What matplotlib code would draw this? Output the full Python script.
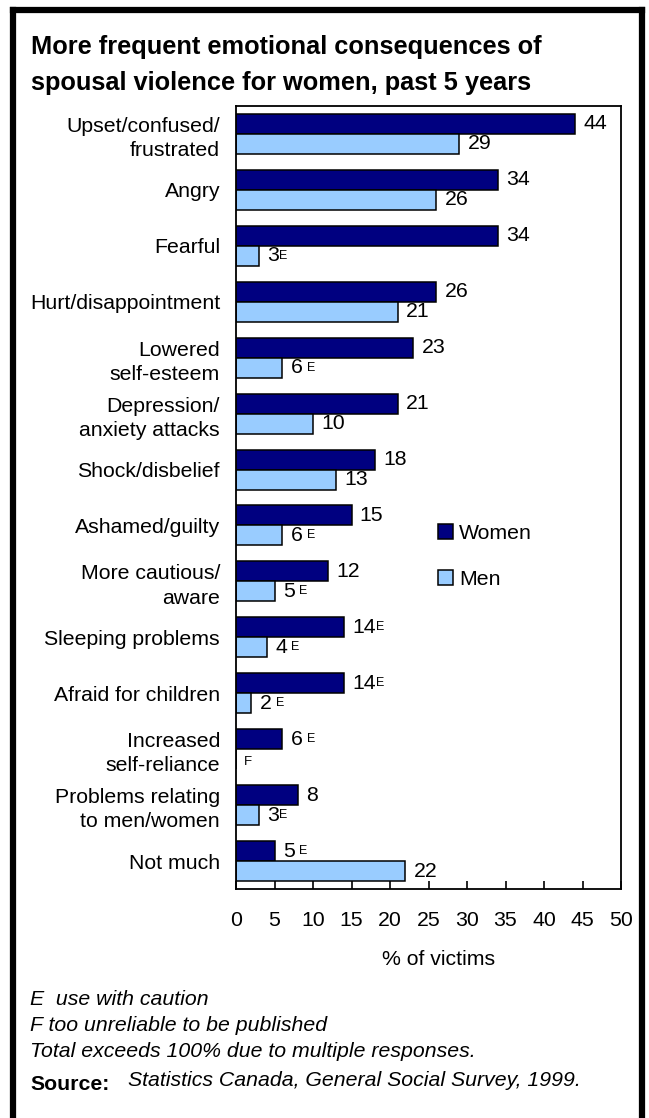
import numpy as np
import matplotlib
matplotlib.use("Agg")
import matplotlib.pyplot as plt
from matplotlib.patches import Patch
from matplotlib.lines import Line2D

plt.rcParams["font.family"] = ["Liberation Sans", "DejaVu Sans"]

categories = ["Upset/confused/\nfrustrated", "Angry", "Fearful", "Hurt/disappointment",
              "Lowered\nself-esteem", "Depression/\nanxiety attacks", "Shock/disbelief",
              "Ashamed/guilty", "More cautious/\naware", "Sleeping problems",
              "Afraid for children", "Increased\nself-reliance", "Problems relating\nto men/women",
              "Not much"]
women = [44, 34, 34, 26, 23, 21, 18, 15, 12, 14, 14, 6, 8, 5]
men = [29, 26, 3, 21, 6, 10, 13, 6, 5, 4, 2, None, 3, 22]
# quality flags printed after the values ("E" = use with caution)
women_flag = ["", "", "", "", "", "", "", "", "", "E", "E", " E", "", " E"]
men_flag = ["", "", "E", "", " E", "", "", " E", " E", " E", " E", "", "E", ""]

W, H = 649, 1118
fig = plt.figure(figsize=(W / 100, H / 100), dpi=100)

def fx(px):
    return px / W

def fy(py):
    return 1 - py / H

fs = 15.3

# outer frame (open at the bottom)
lw_frame = 4.5
fig.add_artist(Line2D([fx(13), fx(13)], [fy(10), 0], color="black", lw=lw_frame))
fig.add_artist(Line2D([fx(13), fx(642)], [fy(10), fy(10)], color="black", lw=lw_frame))
fig.add_artist(Line2D([fx(642), fx(642)], [fy(10), 0], color="black", lw=lw_frame))

fig.text(fx(31), fy(54), "More frequent emotional consequences of", fontsize=18.3,
         fontweight="bold", va="baseline", ha="left")
fig.text(fx(31), fy(90), "spousal violence for women, past 5 years", fontsize=18.3,
         fontweight="bold", va="baseline", ha="left")

ax = fig.add_axes([fx(236), fy(889), (621 - 236) / W, (889 - 106) / H])

y = np.arange(len(categories))
h = 20 / 56
dark = "#000080"
light = "#99CCFF"

w_vals = np.array(women, dtype=float)
m_vals = np.array([np.nan if v is None else v for v in men], dtype=float)

ax.barh(y - h / 2, w_vals, height=h, color=dark, edgecolor="black", linewidth=1.1)
ax.barh(y + h / 2, np.nan_to_num(m_vals), height=h, color=light, edgecolor="black",
        linewidth=1.1)

def value_label(val, ypos, flag):
    t = ax.annotate(f"{val:g}", xy=(val, ypos), xytext=(6, 0), textcoords="offset points",
                    ha="left", va="center", fontsize=fs)
    if flag:
        gap = 3 if flag.startswith(" ") else 0
        ax.annotate("E", xy=(1, 1), xycoords=t, xytext=(gap, -2.5),
                    textcoords="offset points", ha="left", va="top", fontsize=9)

for i in range(len(categories)):
    value_label(w_vals[i], y[i] - h / 2, women_flag[i])
    if np.isnan(m_vals[i]):
        ax.annotate("F", xy=(0, y[i] + h / 2), xytext=(6, -2), textcoords="offset points",
                    ha="left", va="center", fontsize=9.5)
    else:
        value_label(m_vals[i], y[i] + h / 2, men_flag[i])

ax.set_xlim(0, 50)
ax.set_ylim(len(categories) - 0.5, -0.5)
ax.set_xticks(np.arange(0, 51, 5))
ax.set_yticks(y)
ax.set_yticklabels(categories, fontsize=fs, linespacing=1.35)
ax.tick_params(axis="x", direction="in", length=6, width=1.2, pad=16, labelsize=fs)
ax.tick_params(axis="y", length=0, pad=11.5)
for s in ax.spines.values():
    s.set_linewidth(1.3)

ax.set_xlabel("% of victims", fontsize=fs)
ax.xaxis.set_label_coords(0.527, -0.078)

handles = [Patch(facecolor=dark, edgecolor="black", linewidth=1.1),
           Patch(facecolor=light, edgecolor="black", linewidth=1.1)]
fig.legend(handles, ["Women", "Men"], loc="upper left",
           bbox_to_anchor=(fx(427), fy(513)), frameon=False, fontsize=fs,
           borderpad=0, handlelength=0.72, handleheight=0.72, handletextpad=0.3,
           labelspacing=1.29)

notes = ["E  use with caution", "F too unreliable to be published",
         "Total exceeds 100% due to multiple responses."]
for txt, base in zip(notes, [1005, 1031, 1057]):
    fig.text(fx(30), fy(base), txt, fontsize=fs, style="italic", va="baseline")
fig.text(fx(30), fy(1090), "Source:", fontsize=fs, fontweight="bold", va="baseline")
fig.text(fx(128), fy(1086), "Statistics Canada, General Social Survey, 1999.",
         fontsize=fs, style="italic", va="baseline")

fig.savefig("out.png", dpi=100)
